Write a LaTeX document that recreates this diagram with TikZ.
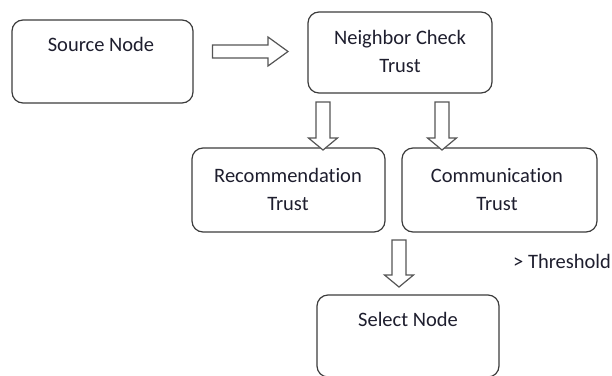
\documentclass[tikz,border=0pt]{standalone}
\usepackage{fontspec}
\setmainfont{Carlito}[Ligatures=NoCommon]
\definecolor{boxline}{HTML}{3C3C3C}
\definecolor{arrline}{HTML}{555555}
\definecolor{txt}{HTML}{1E1E2E}
\tikzset{
  box/.style={draw=boxline, line width=1.2pt, rounded corners=11pt, fill=white, inner sep=0pt},
  lbl/.style={font=\fontsize{20.5}{28}\selectfont, text=txt, anchor=base, inner sep=0pt},
  blk/.style={draw=arrline, line width=1.2pt, fill=white, line join=miter},
  % hollow block arrow pointing down; #1 = total length
  pics/downarrow/.style={code={
    \draw[blk] (-7,0) -- (7,0) -- (7,#1-12) -- (14.5,#1-12) -- (0,#1)
      -- (-14.5,#1-12) -- (-7,#1-12) -- cycle;}},
  % hollow block arrow pointing right; #1 = total length
  pics/rightarrow/.style={code={
    \draw[blk] (0,-6.5) -- (#1-20,-6.5) -- (#1-20,-14.5) -- (#1,0)
      -- (#1-20,14.5) -- (#1-20,6.5) -- (0,6.5) -- cycle;}},
}
\begin{document}
\begin{tikzpicture}[x=1pt, y=-1pt]
\useasboundingbox (0,0) rectangle (612,375);

% boxes
\node[box, minimum width=181pt, minimum height=83pt] (src) at (102.5,61.5) {};
\node[box, minimum width=184pt, minimum height=81pt] (nbr) at (400,52.5) {};
\node[box, minimum width=193pt, minimum height=84pt] (rec) at (288.5,190) {};
\node[box, minimum width=195pt, minimum height=84pt] (com) at (499.5,190) {};
\node[box, minimum width=182pt, minimum height=82pt] (sel) at (408,336) {};

% labels
\node[lbl] (srcT) at (101,51) {Source Node};
\node[lbl] (nbrT1) at (400,44) {Neighbor Check};
\node[lbl] (nbrT2) at (400,72) {Trust};
\node[lbl] (recT1) at (288,182) {Recommendation};
\node[lbl] (recT2) at (288,210) {Trust};
\node[lbl] (comT1) at (497,182) {Communication};
\node[lbl] (comT2) at (497,210) {Trust};
\node[lbl] (selT) at (408,326) {Select Node};
\node[lbl, anchor=base west] (thr) at (513,268) {> Threshold};

% block arrows
\pic (a1) at (212.5,51.5) {rightarrow=75.5};
\pic (a2) at (323,102) {downarrow=48};
\pic (a3) at (442,102) {downarrow=48};
\pic (a4) at (399,240) {downarrow=47};
\end{tikzpicture}
\end{document}
